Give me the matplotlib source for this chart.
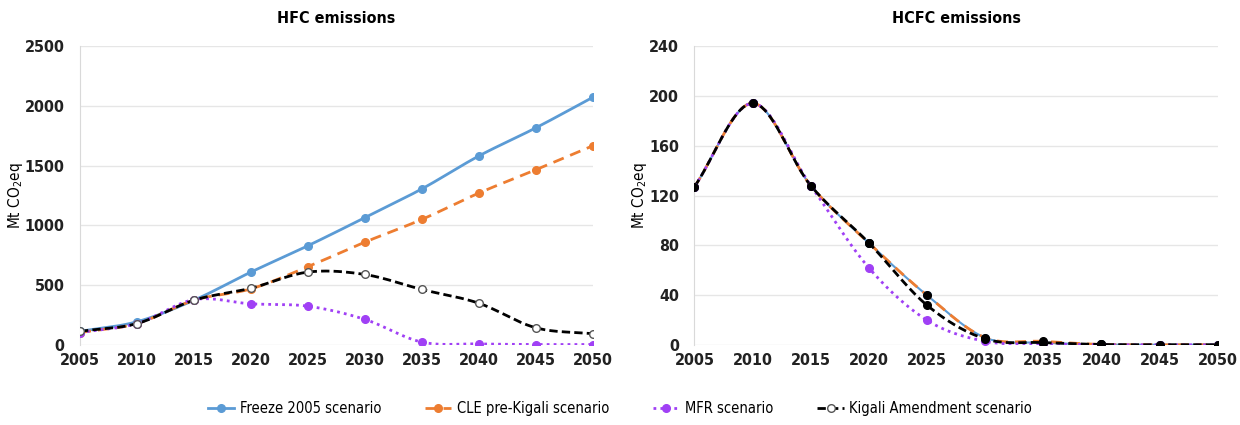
import numpy as np
import matplotlib.pyplot as plt

plt.rcParams['font.family'] = ['Liberation Sans Narrow', 'DejaVu Sans']
plt.rcParams['font.stretch'] = 'condensed'

years = [2005, 2010, 2015, 2020, 2025, 2030, 2035, 2040, 2045, 2050]

# HFC emissions (Mt CO2eq)
hfc_freeze = [115, 195, 375, 610, 830, 1065, 1305, 1580, 1815, 2070]
hfc_cle = [105, 180, 375, 470, 655, 860, 1050, 1270, 1465, 1665]
hfc_mfr = [105, 180, 380, 345, 325, 215, 25, 10, 5, 5]
hfc_kigali = [115, 180, 375, 475, 610, 590, 465, 350, 145, 95]

# HCFC emissions (Mt CO2eq)
hcfc_freeze = [127, 194, 128, 82, 40, 6, 2, 0.5, 0.3, 0.3]
hcfc_cle = [127, 194, 128, 82, 40, 6, 3, 0.5, 0.3, 0.3]
hcfc_mfr = [127, 194, 128, 62, 20, 3, 1, 0.3, 0.2, 0.2]
hcfc_kigali = [127, 194, 128, 82, 32, 5, 2, 0.5, 0.3, 0.3]

hfc_ticks = [0, 500, 1000, 1500, 2000, 2500]
hcfc_ticks = [0, 40, 80, 120, 160, 200, 240]

blue = '#5B9BD5'
orange = '#ED7D31'
purple = '#A040F5'


def smooth(x, y, n=20):
    # Excel-style smoothed line (uniform Catmull-Rom through the points)
    x = np.asarray(x, float)
    y = np.asarray(y, float)
    px = np.concatenate([[2 * x[0] - x[1]], x, [2 * x[-1] - x[-2]]])
    py = np.concatenate([[2 * y[0] - y[1]], y, [2 * y[-1] - y[-2]]])
    t = np.linspace(0, 1, n)[:, None]
    xs, ys = [], []
    for i in range(1, len(px) - 2):
        for p, out in ((px, xs), (py, ys)):
            p0, p1, p2, p3 = p[i - 1], p[i], p[i + 1], p[i + 2]
            seg = 0.5 * ((2 * p1) + (-p0 + p2) * t + (2 * p0 - 5 * p1 + 4 * p2 - p3) * t ** 2
                         + (-p0 + 3 * p1 - 3 * p2 + p3) * t ** 3)
            out.append(seg.ravel())
    return np.concatenate(xs), np.concatenate(ys)


def draw(ax, y, color, ls, lw, mfc, mec, label=None):
    sx, sy = smooth(years, y)
    ax.plot(sx, sy, color=color, ls=ls, lw=lw, zorder=3)
    ax.plot(years, y, ls='none', marker='o', ms=5.5, mfc=mfc, mec=mec, mew=1, zorder=4)
    if label:
        ax.plot([], [], color=color, ls=ls, lw=lw, marker='o', ms=5.5, mfc=mfc, mec=mec, label=label)


fig = plt.figure(figsize=(12.4, 4.25), dpi=100)
ax1 = fig.add_axes([0.0645, 0.188, 0.4135, 0.704])
ax2 = fig.add_axes([0.560, 0.188, 0.422, 0.704])

draw(ax1, hfc_freeze, blue, '-', 2, blue, blue, 'Freeze 2005 scenario')
draw(ax1, hfc_cle, orange, (0, (4, 2.5)), 2, orange, orange, 'CLE pre-Kigali scenario')
draw(ax1, hfc_mfr, purple, (0, (1, 1.5)), 2, purple, purple, 'MFR scenario')
draw(ax1, hfc_kigali, 'black', (0, (3, 1.5)), 2, 'white', '#555555', 'Kigali Amendment scenario')

draw(ax2, hcfc_freeze, blue, '-', 1.5, blue, blue)
draw(ax2, hcfc_cle, orange, (0, (4, 2.5)), 2, 'black', 'black')
draw(ax2, hcfc_mfr, purple, (0, (1, 1.5)), 2, purple, purple)
draw(ax2, hcfc_kigali, 'black', (0, (3, 1.5)), 2, 'black', 'black')

for ax, ticks, title in ((ax1, hfc_ticks, 'HFC emissions'), (ax2, hcfc_ticks, 'HCFC emissions')):
    ax.set_xlim(years[0], years[-1])
    ax.set_ylim(ticks[0], ticks[-1])
    ax.set_xticks(years)
    ax.set_yticks(ticks)
    ax.grid(axis='y', color='#E6E6E6', lw=1)
    ax.set_axisbelow(True)
    for s in ('top', 'right', 'bottom'):
        ax.spines[s].set_visible(False)
    ax.spines['left'].set_color('#D9D9D9')
    ax.tick_params(length=0, labelsize=11.5, colors='#222222')
    ax.tick_params(axis='x', pad=6)
    ax.tick_params(axis='y', pad=11)
    for lbl in ax.get_xticklabels() + ax.get_yticklabels():
        lbl.set_fontweight('bold')
    ax.set_ylabel('Mt CO$_2$eq', fontsize=11, labelpad=0)
    ax.set_title(title, fontsize=11.5, fontweight='bold', pad=16.5)

fig.legend(*ax1.get_legend_handles_labels(), loc='lower center', ncol=4, frameon=False,
           fontsize=10.5, bbox_to_anchor=(0.5, -0.01), handlelength=1.8, handletextpad=0.4,
           columnspacing=3)

fig.savefig('out.png', dpi=100)
